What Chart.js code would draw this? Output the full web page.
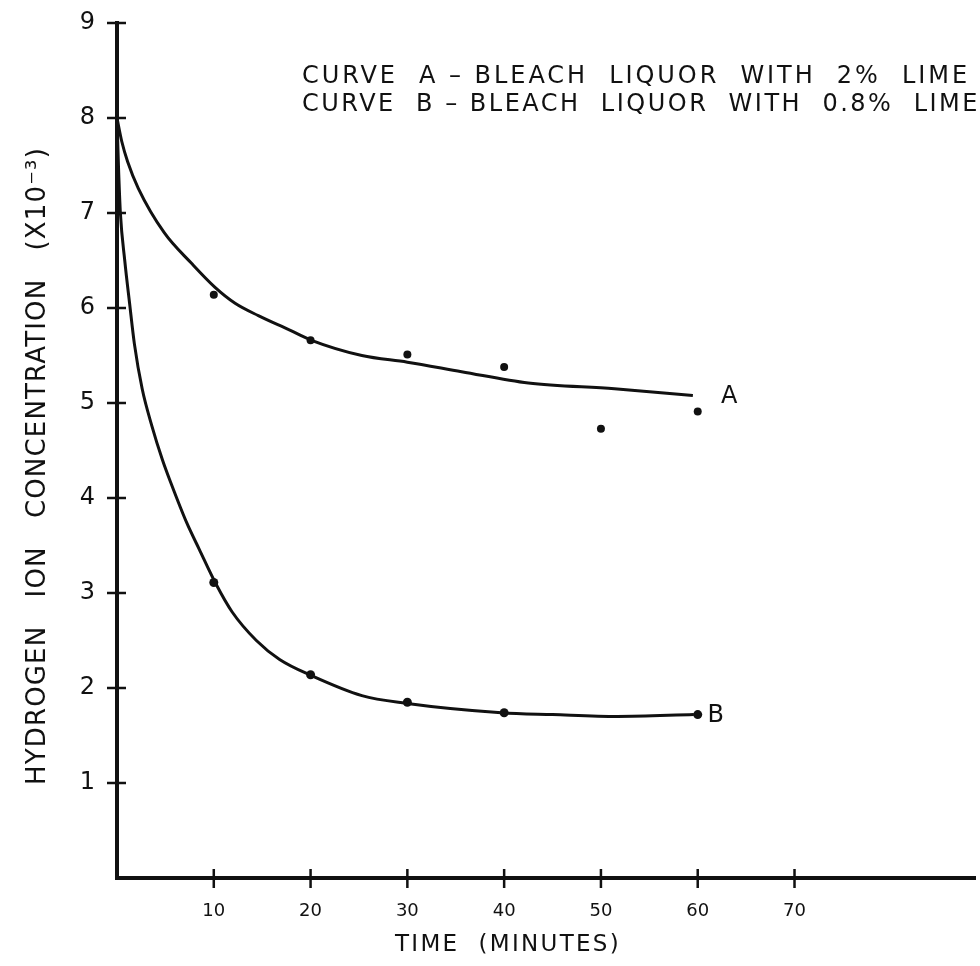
<!DOCTYPE html>
<html>
<head>
<meta charset="utf-8">
<script src="https://cdn.jsdelivr.net/npm/chart.js@4.4.1/dist/chart.umd.min.js"></script>
<style>
  html, body { margin: 0; padding: 0; background: #fff; }
</style>
</head>
<body>
<canvas id="hplot" width="980" height="966"></canvas>
<script>
// tick values
const xTicks = [10, 20, 30, 40, 50, 60, 70];
const yTicks = [1, 2, 3, 4, 5, 6, 7, 8, 9];

// curve A (2% lime), smooth line as drawn
const curveAX = [0, 0.5, 1.1, 2.2, 4.9, 7.7, 10.1, 12.2, 14.6, 17.8, 20.1, 25.3, 30, 35.6, 42.5, 51.4, 59.5];
const curveAY = [8.0, 7.75, 7.54, 7.26, 6.79, 6.47, 6.22, 6.05, 5.92, 5.77, 5.66, 5.5, 5.43, 5.33, 5.21, 5.15, 5.08];
// measured points, curve A
const dotsAX = [10, 20, 30, 40, 50, 60];
const dotsAY = [6.14, 5.66, 5.51, 5.38, 4.73, 4.91];

// curve B (0.8% lime)
const curveBX = [0, 0.15, 0.35, 0.8, 1.3, 1.8, 2.6, 3.6, 4.7, 5.6, 7.2, 8.5, 10.2, 11.9, 14.4, 16.8, 20.1, 25.3, 29.8, 39.7, 45, 51.7, 59.6];
const curveBY = [8.0, 7.5, 7.0, 6.5, 6.05, 5.62, 5.15, 4.76, 4.4, 4.15, 3.74, 3.46, 3.1, 2.8, 2.5, 2.3, 2.13, 1.92, 1.84, 1.74, 1.72, 1.70, 1.72];
// measured points, curve B
const dotsBX = [10, 20, 30, 40, 60];
const dotsBY = [3.11, 2.14, 1.85, 1.74, 1.72];

const curveNames = ["A", "B"];
const legendLines = [
  "CURVE  A – BLEACH  LIQUOR  WITH  2%  LIME",
  "CURVE  B – BLEACH  LIQUOR  WITH  0.8%  LIME"
];
const xTitle = "TIME  (MINUTES)";
const yTitle = "HYDROGEN   ION   CONCENTRATION   (X10⁻³)";

const ink = "#111";
const FONT = "'DejaVu Sans', sans-serif";

const pts = (xs, ys) => xs.map((x, i) => ({ x, y: ys[i] }));

// text stretched to a given width (hand lettering is widely spaced)
function spaced(ctx, text, x, y, w) {
  ctx.letterSpacing = "0px";
  const nat = ctx.measureText(text).width;
  const ls = (w - nat) / Math.max(1, text.length);
  ctx.letterSpacing = ls + "px";
  ctx.fillText(text, x, y);
  ctx.letterSpacing = "0px";
}

const annot = {
  id: "annot",
  afterDraw(chart) {
    const { ctx, chartArea: ca, scales: { x, y } } = chart;
    ctx.save();
    ctx.strokeStyle = ink;
    ctx.fillStyle = ink;
    ctx.lineWidth = 2.5;

    // tick marks crossing the axes
    ctx.beginPath();
    yTicks.forEach(v => {
      const py = y.getPixelForValue(v);
      ctx.moveTo(ca.left - 10, py);
      ctx.lineTo(ca.left + 9, py);
    });
    xTicks.forEach(v => {
      const px = x.getPixelForValue(v);
      ctx.moveTo(px, ca.bottom - 9);
      ctx.lineTo(px, ca.bottom + 10);
    });
    ctx.stroke();

    // curve labels at the end of each line
    ctx.font = "24px " + FONT;
    ctx.textBaseline = "middle";
    ctx.textAlign = "left";
    ctx.fillText(curveNames[0], x.getPixelForValue(62.4), y.getPixelForValue(5.07));
    ctx.fillText(curveNames[1], x.getPixelForValue(61.0), y.getPixelForValue(1.71));

    // legend text
    ctx.font = "24px " + FONT;
    spaced(ctx, legendLines[0], 302, 77, 668);
    spaced(ctx, legendLines[1], 302, 105, 678);

    // x title
    ctx.font = "23px " + FONT;
    spaced(ctx, xTitle, 395, 945, 226);

    // y title
    ctx.translate(38, 785);
    ctx.rotate(-Math.PI / 2);
    ctx.font = "26px " + FONT;
    spaced(ctx, yTitle, 0, 0, 638);
    ctx.restore();
  }
};

new Chart(document.getElementById("hplot"), {
  type: "line",
  data: {
    datasets: [
      { data: pts(curveAX, curveAY), borderColor: ink, borderWidth: 3, pointRadius: 0,
        cubicInterpolationMode: "monotone", fill: false },
      { data: pts(curveBX, curveBY), borderColor: ink, borderWidth: 3, pointRadius: 0,
        cubicInterpolationMode: "monotone", fill: false },
      { type: "scatter", data: pts(dotsAX, dotsAY), pointRadius: 4, pointBackgroundColor: ink,
        pointBorderWidth: 0, showLine: false },
      { type: "scatter", data: pts(dotsBX, dotsBY), pointRadius: 4.5, pointBackgroundColor: ink,
        pointBorderWidth: 0, showLine: false }
    ]
  },
  options: {
    responsive: false,
    animation: false,
    devicePixelRatio: 1,
    layout: { padding: { top: 23, right: 1, left: 0, bottom: 0 } },
    plugins: { legend: { display: false }, tooltip: { enabled: false } },
    scales: {
      x: {
        type: "linear",
        min: 0,
        max: 88.7,
        afterBuildTicks: s => { s.ticks = xTicks.map(v => ({ value: v })); },
        afterFit: s => { s.height = 88; s.paddingLeft = 0; s.paddingRight = 0; },
        grid: { display: false, drawTicks: false },
        border: { display: true, width: 4, color: ink },
        ticks: { color: ink, padding: 23, maxRotation: 0, font: { family: FONT, size: 18 } }
      },
      y: {
        type: "linear",
        min: 0,
        max: 9,
        afterBuildTicks: s => { s.ticks = yTicks.map(v => ({ value: v })); },
        afterFit: s => { s.width = 117; s.paddingTop = 0; s.paddingBottom = 0; },
        grid: { display: false, drawTicks: false },
        border: { display: true, width: 4, color: ink },
        ticks: { color: ink, padding: 22, font: { family: FONT, size: 24 } }
      }
    }
  },
  plugins: [annot]
});
</script>
</body>
</html>
